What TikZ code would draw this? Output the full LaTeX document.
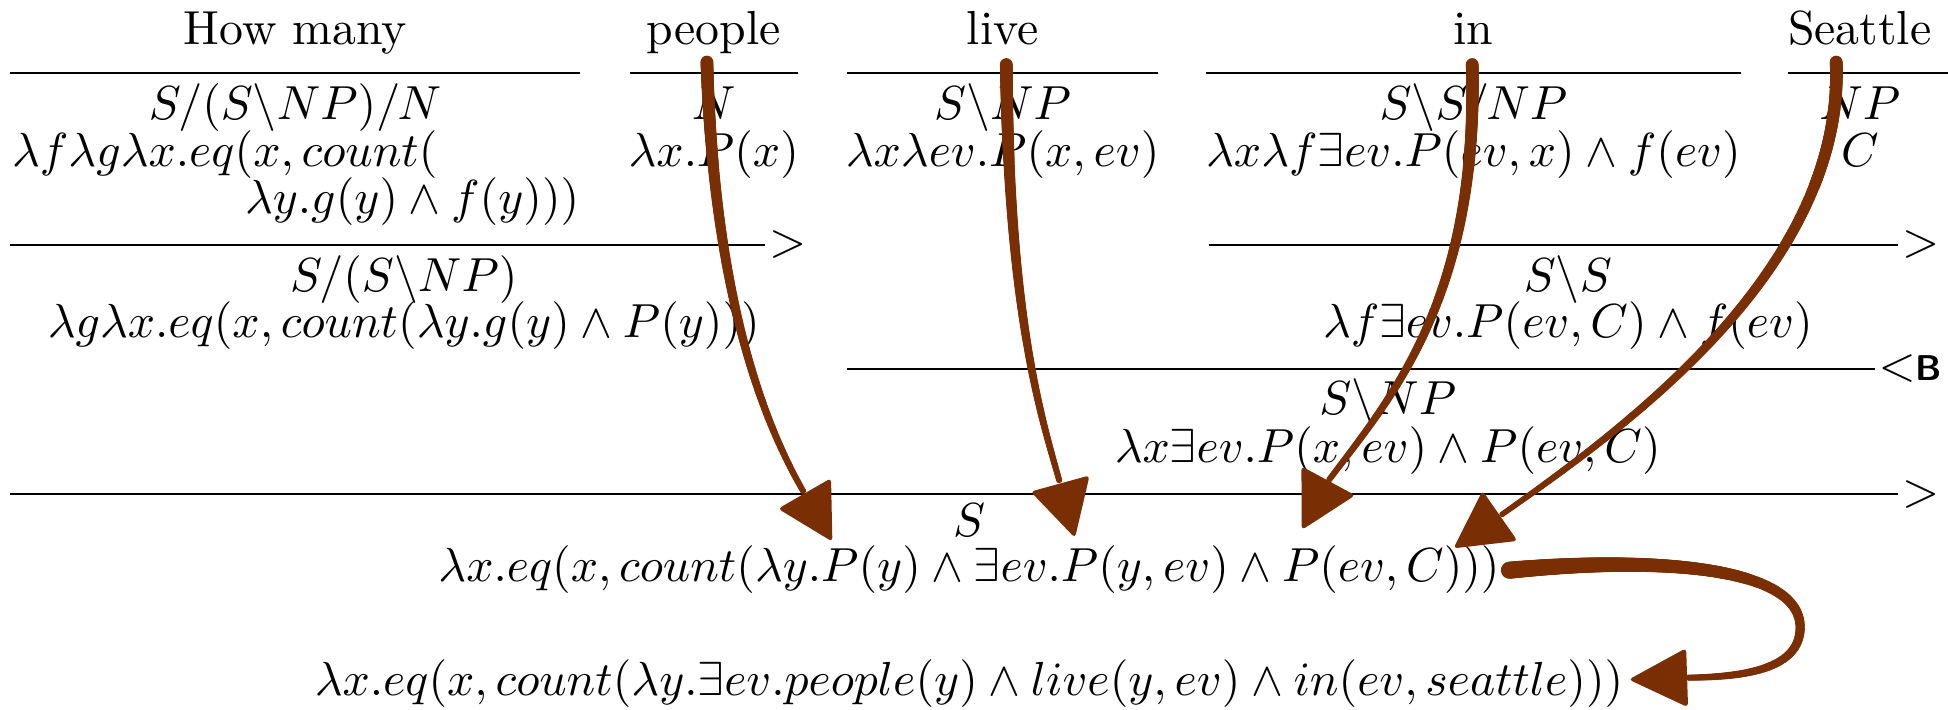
\documentclass[tikz,border=0pt]{standalone}
\usetikzlibrary{calc,decorations.markings}
\definecolor{brush}{RGB}{122,46,4}
\tikzset{
  txt/.style={inner sep=0pt, anchor=base},
  rule/.style={line width=0.4pt, black},
  lbl/.style={inner sep=0.6pt, anchor=west},
  taper/.style n args={2}{decoration={markings,
      mark=between positions 0 and 1 step 0.3pt with {%
        \pgfmathsetmacro\rr{#1-(#1-#2)*\pgfkeysvalueof{/pgf/decoration/mark info/distance from start}/\pgfdecoratedpathlength}%
        \fill[brush] (0,0) circle (\rr pt);}},
    decorate},
  headfill/.style={fill=brush, rounded corners=0.8pt}
}
\newcommand{\brushhead}[3]{%
  \fill[headfill] (#2) -- ($(#1)!#3!90:(#2)$) -- ($(#1)!#3!-90:(#2)$) -- cycle;}
\begin{document}
\begin{tikzpicture}[x=0.26pt,y=-0.26pt]
\useasboundingbox (0,0) rectangle (1568,571);

% words
\node[txt] (w1) at (237.5,36) {How many};
\node[txt] (w2) at (574.5,36) {people};
\node[txt] (w3) at (807,36) {live};
\node[txt] (w4) at (1186,36) {in};
\node[txt] (w5) at (1497,36) {Seattle};

% lexical rules
\draw[rule] (8,59) -- (467,59);
\draw[rule] (507,59) -- (642,59);
\draw[rule] (682,59) -- (932,59);
\draw[rule] (971,59) -- (1401,59);
\draw[rule] (1439,59) -- (1568,59);

% lexical entries
\node[txt] (c1) at (237.5,96) {$S/(S\backslash NP)/N$};
\node[txt,anchor=base west] (s1a) at (9,134) {$\lambda f\lambda g\lambda x.eq(x,count($};
\node[txt,anchor=base east] (s1b) at (467,172) {$\lambda y.g(y)\wedge f(y)))$};
\node[txt] (c2) at (574.5,96) {$N$};
\node[txt] (s2) at (574.5,134) {$\lambda x.P(x)$};
\node[txt] (c3) at (807,96) {$S\backslash NP$};
\node[txt] (s3) at (807,134) {$\lambda x\lambda ev.P(x,ev)$};
\node[txt] (c4) at (1186,96) {$S\backslash S/NP$};
\node[txt] (s4) at (1186,134) {$\lambda x\lambda f\exists ev.P(ev,x)\wedge f(ev)$};
\node[txt] (c5) at (1497,96) {$NP$};
\node[txt] (s5) at (1497,134) {$C$};

% row 2
\draw[rule] (8,197) -- (616,197) node[lbl] (r1) {$>$};
\draw[rule] (973,197) -- (1528,197) node[lbl] (r2) {$>$};
\node[txt] (c6) at (325,235) {$S/(S\backslash NP)$};
\node[txt] (s6) at (325,272) {$\lambda g\lambda x.eq(x,count(\lambda y.g(y)\wedge P(y)))$};
\node[txt] (c7) at (1262,235) {$S\backslash S$};
\node[txt] (s7) at (1262,272) {$\lambda f\exists ev.P(ev,C)\wedge f(ev)$};

% row 3
\draw[rule] (682,297) -- (1509,297) node[lbl] (r3) {$<$\fontsize{7.5}{8}\selectfont\sffamily\bfseries B};
\node[txt] (c8) at (1117,334) {$S\backslash NP$};
\node[txt] (s8) at (1117,372) {$\lambda x\exists ev.P(x,ev)\wedge P(ev,C)$};

% row 4
\draw[rule] (8,398) -- (1528,398) node[lbl] (r4) {$>$};
\node[txt] (c9) at (780,432) {$S$};
\node[txt] (sem) at (780,468) {$\lambda x.eq(x,count(\lambda y.P(y)\wedge\exists ev.P(y,ev)\wedge P(ev,C)))$};

% final
\node[txt] (final) at (780,560) {$\lambda x.eq(x,count(\lambda y.\exists ev.people(y)\wedge live(y,ev)\wedge in(ev,seattle)))$};

% brush arrows
\coordinate (a1s) at (569,50);  \coordinate (a1b) at (647.6,397.2); \coordinate (a1t) at (670,436);
\coordinate (a2s) at (810,52);  \coordinate (a2b) at (853.3,389.2); \coordinate (a2t) at (865.3,433);
\coordinate (a3s) at (1185,52); \coordinate (a3b) at (1069.2,387);  \coordinate (a3t) at (1047.8,426.6);
\coordinate (a4s) at (1478,50); \coordinate (a4b) at (1207.4,415.2); \coordinate (a4t) at (1169.9,441.4);
\coordinate (a5s) at (1215,459); \coordinate (a5m) at (1449,505); \coordinate (a5b) at (1358,545.5); \coordinate (a5t) at (1311,547);

\path[taper={1.35}{0.65}] (a1s) .. controls (575,250) and (620,350) .. (a1b);
\path[taper={1.35}{0.65}] (a2s) .. controls (812,260) and (840,341) .. (a2b);
\path[taper={1.35}{0.65}] (a3s) .. controls (1190,240) and (1120,320) .. (a3b);
\path[taper={1.35}{0.6}] (a4s) .. controls (1485,220) and (1300,350) .. (a4b);
\path[taper={1.8}{0.65}] (a5s) .. controls (1330,448) and (1449,455) .. (a5m) .. controls (1449,540) and (1400,545) .. (a5b);

\brushhead{a1b}{a1t}{6.4pt}
\brushhead{a2b}{a2t}{6.4pt}
\brushhead{a3b}{a3t}{6.4pt}
\brushhead{a4b}{a4t}{6.4pt}
\brushhead{a5b}{a5t}{6.2pt}
\end{tikzpicture}
\end{document}
